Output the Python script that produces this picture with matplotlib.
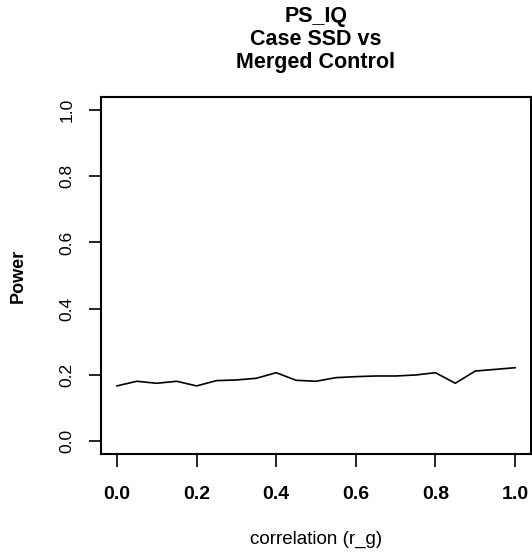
import numpy as np
import matplotlib
matplotlib.use("Agg")
import matplotlib.pyplot as plt

plt.rcParams['font.family'] = ['Liberation Sans', 'DejaVu Sans']

# correlation grid and estimated power
r_g = [0.00, 0.05, 0.10, 0.15, 0.20, 0.25, 0.30, 0.35, 0.40, 0.45, 0.50,
       0.55, 0.60, 0.65, 0.70, 0.75, 0.80, 0.85, 0.90, 0.95, 1.00]
power = [0.166, 0.180, 0.174, 0.180, 0.166, 0.182, 0.184, 0.189, 0.206, 0.183, 0.180,
         0.191, 0.194, 0.196, 0.196, 0.199, 0.206, 0.174, 0.211, 0.216, 0.221]

x_ticks = [0.0, 0.2, 0.4, 0.6, 0.8, 1.0]
y_ticks = [0.0, 0.2, 0.4, 0.6, 0.8, 1.0]

fig = plt.figure(figsize=(5.32, 5.54), dpi=100)
ax = fig.add_axes([101/532, 1 - 454/554, 430/532, 357/554])

ax.plot(r_g, power, color='black', linewidth=1.2)

ax.set_xlim(-0.04, 1.04)
ax.set_ylim(-0.04, 1.04)
ax.set_xticks(x_ticks)
ax.set_yticks(y_ticks)
ax.set_xticklabels(['%.1f' % v for v in x_ticks], fontsize=14, fontweight='bold')
ax.set_yticklabels(['%.1f' % v for v in y_ticks], fontsize=12.5, rotation=90, va='center')
ax.tick_params(axis='x', length=9, width=1.2, pad=14)
ax.tick_params(axis='y', length=9, width=1.2, pad=10)
for s in ax.spines.values():
    s.set_linewidth(1.5)

ax.set_title('PS_IQ\nCase SSD vs\nMerged Control', fontsize=15.5, fontweight='bold',
             linespacing=1.13, pad=21)
ax.set_xlabel('correlation (r_g)', fontsize=13.5, labelpad=20)
ax.set_ylabel('Power', fontsize=13, fontweight='bold', labelpad=24)

fig.savefig('out.png', dpi=100)
